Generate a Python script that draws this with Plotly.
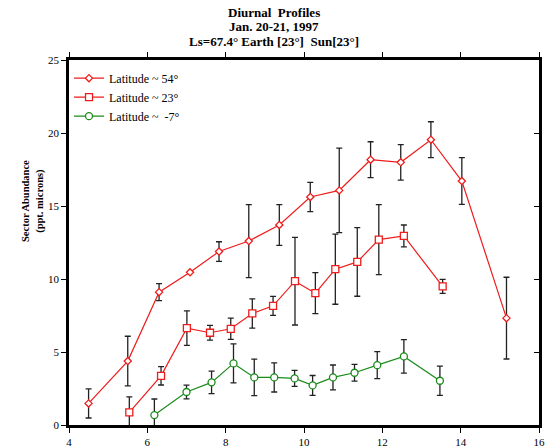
import plotly.graph_objects as go

# Latitude ~ 54°
x54 = [4.5, 5.5, 6.3, 7.09, 7.83, 8.59, 9.37, 10.16, 10.9, 11.7, 12.47, 13.24, 14.03, 15.17]
y54 = [1.48, 4.38, 9.1, 10.46, 11.88, 12.6, 13.7, 15.62, 16.07, 18.17, 17.99, 19.54, 16.71, 7.32]
e54 = [1.0, 1.7, 0.58, 0.0, 0.67, 2.5, 1.4, 1.0, 2.9, 1.23, 1.22, 1.23, 1.6, 2.8]

# Latitude ~ 23°
x23 = [5.54, 6.35, 7.01, 7.6, 8.13, 8.68, 9.21, 9.77, 10.29, 10.8, 11.36, 11.91, 12.55, 13.54]
y23 = [0.87, 3.37, 6.63, 6.32, 6.59, 7.64, 8.16, 9.85, 9.03, 10.67, 11.17, 12.7, 12.95, 9.49]
e23 = [1.05, 0.63, 1.18, 0.5, 0.73, 1.0, 0.65, 3.0, 1.4, 2.4, 2.35, 2.4, 0.75, 0.48]

# Latitude ~ -7°
xm7 = [6.18, 7.0, 7.64, 8.2, 8.73, 9.24, 9.76, 10.22, 10.74, 11.29, 11.87, 12.55, 13.47]
ym7 = [0.68, 2.26, 2.92, 4.22, 3.26, 3.26, 3.19, 2.71, 3.26, 3.58, 4.1, 4.7, 3.03]
em7 = [1.1, 0.47, 0.77, 1.34, 1.25, 1.0, 0.55, 0.68, 0.85, 0.57, 0.92, 1.15, 1.0]

names = ["Latitude ~ 54°", "Latitude ~ 23°", "Latitude ~  -7°"]
title_lines = ["Diurnal  Profiles", "Jan. 20-21, 1997", "Ls=67.4° Earth [23°]  Sun[23°]"]
x_ticks = [4, 6, 8, 10, 12, 14, 16]
y_ticks = [0, 5, 10, 15, 20, 25]

RED = "#ee1c1c"
GREEN = "#1a8c1a"
FONT = "Liberation Serif"

fig = go.Figure()

def add(xs, ys, es, name, color, symbol, size):
    fig.add_trace(go.Scatter(
        x=xs, y=ys, name=name, mode="lines+markers",
        line=dict(color=color, width=1.2),
        marker=dict(symbol=symbol, size=size, color="white",
                    line=dict(color=color, width=1.3)),
        error_y=dict(type="data", array=es, visible=True,
                     color="#222222", thickness=1.3, width=3),
    ))

add(x54, y54, e54, names[0], RED, "diamond", 5.5)
add(x23, y23, e23, names[1], RED, "square", 7)
add(xm7, ym7, em7, names[2], GREEN, "circle", 7)

# invisible trace to anchor the right-hand axis (inward ticks)
fig.add_trace(go.Scatter(x=[4], y=[0], yaxis="y2", mode="markers",
                         marker=dict(opacity=0), showlegend=False,
                         hoverinfo="skip"))

annotations = []
for i, t in enumerate(title_lines):
    annotations.append(dict(
        text="<b>" + t + "</b>", xref="paper", yref="paper",
        x=(273.5 - 69) / 470, y=1 + (60 - 12 - 14.5 * i) / 365,
        xanchor="center", yanchor="middle", showarrow=False,
        font=dict(family=FONT, size=13, color="black"),
    ))
annotations.append(dict(
    text="<b>Sector Abundance</b><br><b>(ppt. microns)</b>",
    xref="paper", yref="paper", x=-0.075, y=0.613,
    xanchor="center", yanchor="middle", textangle=-90,
    showarrow=False, font=dict(family=FONT, size=10.5, color="black"),
))

fig.update_layout(
    width=547, height=447,
    margin=dict(l=69, r=8, t=60, b=22, autoexpand=False),
    paper_bgcolor="white", plot_bgcolor="white",
    font=dict(family=FONT, size=11, color="black"),
    showlegend=True,
    legend=dict(x=0.0, y=0.99, xanchor="left", yanchor="top",
                bgcolor="rgba(0,0,0,0)", font=dict(family=FONT, size=12),
                itemwidth=30, tracegroupgap=0),
    xaxis=dict(
        range=[4, 16], tickvals=x_ticks, ticktext=[str(v) for v in x_ticks],
        showgrid=False, zeroline=False,
        showline=True, linecolor="black", linewidth=2.6, mirror="ticks",
        ticks="outside", ticklen=5, tickwidth=1, tickcolor="black",
        tickfont=dict(family=FONT, size=11),
    ),
    yaxis=dict(
        range=[0, 25], tickvals=y_ticks, ticktext=[str(v) for v in y_ticks],
        showgrid=False, zeroline=False,
        showline=True, linecolor="black", linewidth=2.6, mirror=True,
        ticks="outside", ticklen=5, tickwidth=1, tickcolor="black",
        tickfont=dict(family=FONT, size=11),
    ),
    yaxis2=dict(
        range=[0, 25], tickvals=y_ticks, overlaying="y", side="right",
        showgrid=False, zeroline=False, showline=False,
        showticklabels=False, ticks="inside", ticklen=5, tickwidth=1,
        tickcolor="black",
    ),
    annotations=annotations,
)

fig.write_html(
    "out.html",
    config={"displayModeBar": False},
    post_script="document.body.style.margin='0';document.body.style.overflow='hidden';",
)
